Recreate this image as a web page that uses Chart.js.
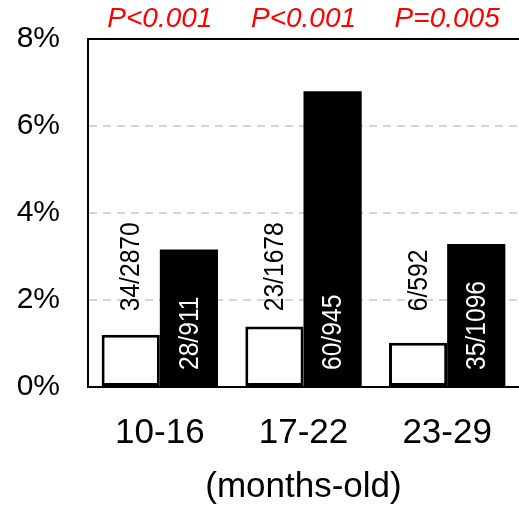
<!DOCTYPE html>
<html>
<head>
<meta charset="utf-8">
<script src="https://cdn.jsdelivr.net/npm/chart.js@4"></script>
<style>
html,body{margin:0;padding:0;background:#fff;}
#wrap{width:519px;height:505px;}
</style>
</head>
<body>
<div id="wrap"><canvas id="c" width="519" height="505"></canvas></div>
<script>
const categories = ['10-16', '17-22', '23-29'];
const whiteValues = [1.20, 1.39, 1.02];
const blackValues = [3.16, 6.80, 3.29];
const whiteLabels = ['34/2870', '23/1678', '6/592'];
const blackLabels = ['28/911', '60/945', '35/1096'];
const pValues = ['P<0.001', 'P<0.001', 'P=0.005'];
const yTicks = [0, 2, 4, 6, 8];
const xTitle = '(months-old)';

const FONT = '"Liberation Sans", Arial, sans-serif';

const extras = {
  id: 'extras',
  afterDatasetsDraw(chart) {
    const ctx = chart.ctx;
    const area = chart.chartArea;
    const ys = chart.scales.y;
    const xs = chart.scales.x;
    ctx.save();
    // top border
    ctx.strokeStyle = '#000';
    ctx.lineWidth = 2;
    ctx.beginPath();
    ctx.moveTo(area.left - 1, area.top);
    ctx.lineTo(chart.width + 2, area.top);
    ctx.stroke();
    // p-values
    ctx.fillStyle = '#ff0000';
    ctx.font = 'italic 28px ' + FONT;
    ctx.textAlign = 'center';
    ctx.textBaseline = 'middle';
    pValues.forEach((p, i) => {
      ctx.fillText(p, xs.getPixelForValue(i), 19);
    });
    // bar labels
    const drawRot = (text, x, yStart, color) => {
      ctx.save();
      ctx.translate(x, yStart);
      ctx.rotate(-Math.PI / 2);
      ctx.scale(0.88, 1);
      ctx.fillStyle = color;
      ctx.font = '28px ' + FONT;
      ctx.textAlign = 'left';
      ctx.textBaseline = 'middle';
      ctx.fillText(text, 0, 1);
      ctx.restore();
    };
    const m0 = chart.getDatasetMeta(0);
    const m1 = chart.getDatasetMeta(1);
    m0.data.forEach((bar, i) => {
      drawRot(whiteLabels[i], bar.x, ys.getPixelForValue(1.74), '#000');
    });
    m1.data.forEach((bar, i) => {
      drawRot(blackLabels[i], bar.x, ys.getPixelForValue(0.39), '#fff');
    });
    ctx.restore();
  }
};

new Chart(document.getElementById('c'), {
  type: 'bar',
  data: {
    labels: categories,
    datasets: [
      {
        data: whiteValues,
        backgroundColor: '#ffffff',
        borderColor: '#000000',
        borderWidth: 3,
        borderSkipped: false,
        categoryPercentage: 0.81,
        barPercentage: 1.0
      },
      {
        data: blackValues,
        backgroundColor: '#000000',
        borderColor: '#000000',
        borderWidth: 0,
        categoryPercentage: 0.81,
        barPercentage: 1.0
      }
    ]
  },
  options: {
    responsive: false,
    animation: false,
    devicePixelRatio: 1,
    layout: { padding: { left: 0, right: -3, top: 39, bottom: 0 } },
    plugins: {
      legend: { display: false },
      tooltip: { enabled: false }
    },
    scales: {
      x: {
        afterFit(axis) { axis.paddingLeft = 0; axis.paddingRight = 0; },
        grid: { display: false, drawTicks: false },
        border: { display: true, color: '#000', width: 2 },
        ticks: {
          color: '#000',
          font: { family: FONT, size: 35, lineHeight: 1.0 },
          padding: 29
        },
        title: {
          display: true,
          text: xTitle,
          color: '#000',
          font: { family: FONT, size: 35, lineHeight: 1.0 },
          padding: { top: -10, bottom: 0 }
        }
      },
      y: {
        min: 0,
        max: 8,
        afterFit(axis) { axis.width = 88; },
        afterBuildTicks(axis) { axis.ticks = yTicks.map(v => ({ value: v })); },
        grid: {
          drawTicks: false,
          color: (c) => (c.tick && (c.tick.value === 0 || c.tick.value === 8)) ? 'rgba(0,0,0,0)' : '#d4d4d4',
          lineWidth: 2
        },
        border: { display: true, color: '#000', width: 2, dash: [8, 6] },
        ticks: {
          color: '#000',
          font: { family: FONT, size: 30, lineHeight: 0.5 },
          padding: 28,
          callback: (v) => v + '%'
        }
      }
    }
  },
  plugins: [extras]
});
</script>
</body>
</html>
